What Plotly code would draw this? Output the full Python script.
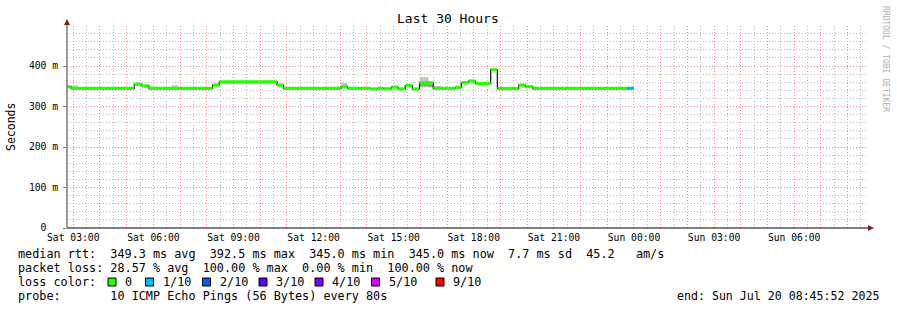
import plotly.graph_objects as go
import pandas as pd

# ---------------- data ----------------
seg_start = [
    "2025-07-19 02:46", "2025-07-19 02:55", "2025-07-19 03:11", "2025-07-19 05:17",
    "2025-07-19 05:34", "2025-07-19 05:50", "2025-07-19 06:40", "2025-07-19 06:56",
    "2025-07-19 08:13", "2025-07-19 08:28", "2025-07-19 10:38", "2025-07-19 10:52",
    "2025-07-19 13:02", "2025-07-19 13:16", "2025-07-19 14:07", "2025-07-19 14:23",
    "2025-07-19 14:37", "2025-07-19 14:55", "2025-07-19 15:10", "2025-07-19 15:26",
    "2025-07-19 15:42", "2025-07-19 15:58", "2025-07-19 16:18", "2025-07-19 16:29",
    "2025-07-19 16:47", "2025-07-19 17:19", "2025-07-19 17:32", "2025-07-19 17:48",
    "2025-07-19 18:04", "2025-07-19 18:38", "2025-07-19 18:53", "2025-07-19 19:41",
    "2025-07-19 19:56", "2025-07-19 20:12", "2025-07-19 23:44",
]
data_end = "2025-07-20 00:00"

median_ms = [
    349, 345, 345, 355,
    351, 345, 345, 345,
    353, 361, 353, 345,
    349, 345, 343.5, 345,
    344, 348, 343.5, 352,
    343.5, 358, 358, 345,
    345, 347.6, 359, 363,
    357, 391, 344.5, 353,
    349, 345, 345,
]
loss_level = [0] * 34 + [1]

smoke_lo = [None, 345, None, None, None, None, 345, None, None, None, None, None,
            346, None, None, None, None, None, None, None, None, 347, 347, 345,
            None, None, None, None, None, None, None, None, 349, None, None]
smoke_hi = [None, 352, None, None, None, None, 352, None, None, None, None, None,
            358, None, None, None, None, None, None, None, None, 373, 364, 351,
            None, None, None, None, None, None, None, None, 353, None, None]
inner_lo = [None] * 21 + [350, 349] + [None] * 12
inner_hi = [None] * 21 + [362, 356] + [None] * 12

range_start = "2025-07-19 02:45:52"
range_end = "2025-07-20 08:45:52"
tick_labels = ["Sat 03:00", "Sat 06:00", "Sat 09:00", "Sat 12:00", "Sat 15:00",
               "Sat 18:00", "Sat 21:00", "Sun 00:00", "Sun 03:00", "Sun 06:00"]
y_tick_vals = [0, 100, 200, 300, 400]
y_tick_text = ["0  ", "100 m", "200 m", "300 m", "400 m"]

loss_names = ["0", "1/10", "2/10", "3/10", "4/10", "5/10", "9/10"]
loss_colors = ["#26ff00", "#00b8ff", "#0059ff", "#5e00ff", "#7e00ff", "#dd00ff", "#ff0000"]
level_color = {0: loss_colors[0], 1: loss_colors[1]}

legend_lines = [
    "median rtt:  349.3 ms avg  392.5 ms max  345.0 ms min  345.0 ms now  7.7 ms sd  45.2   am/s",
    "packet loss: 28.57 % avg  100.00 % max  0.00 % min  100.00 % now",
    "loss color:",
    "probe:       10 ICMP Echo Pings (56 Bytes) every 80s",
]
end_text = "end: Sun Jul 20 08:45:52 2025"

# ---------------- layout constants ----------------
W, H = 897, 310
L, R, T, B = 67, 868, 26, 228
MONO = "DejaVu Sans Mono"


def px(xp):
    return (xp - L) / (R - L)


def py(yp):
    return (B - yp) / (B - T)


def nb(s):
    return s.replace(" ", "\u00a0")


seg_end = seg_start[1:] + [data_end]

fig = go.Figure()


def band_trace(lo, hi, color):
    xs, ys = [], []
    for s, e, a, b in zip(seg_start, seg_end, lo, hi):
        if a is None:
            continue
        xs += [s, e, e, s, s, None]
        ys += [a, a, b, b, a, None]
    return go.Scatter(x=xs, y=ys, mode="lines", fill="toself", fillcolor=color,
                      line=dict(width=0, color=color), hoverinfo="skip", showlegend=False)


fig.add_trace(band_trace(smoke_lo, smoke_hi, "#c6c6c6"))
fig.add_trace(band_trace(inner_lo, inner_hi, "#959595"))

# black step line (median)
fig.add_trace(go.Scatter(x=seg_start + [data_end], y=median_ms + [median_ms[-1]],
                         mode="lines", line=dict(color="#101010", width=1.2, shape="hv"),
                         hoverinfo="skip", showlegend=False))

# coloured horizontal median pieces by loss level
for lvl, col in level_color.items():
    xs, ys = [], []
    for s, e, v, l in zip(seg_start, seg_end, median_ms, loss_level):
        if l != lvl:
            continue
        xs += [s, e, None]
        ys += [v, v, None]
    fig.add_trace(go.Scatter(x=xs, y=ys, mode="lines", line=dict(color=col, width=3.2),
                             hoverinfo="skip", showlegend=False))

# x ticks: hourly grid (red), labels every 3h
hours = pd.date_range("2025-07-19 03:00", "2025-07-20 08:00", freq="h")
lab_iter = iter(tick_labels)
x_tick_text = [next(lab_iter) if h.hour % 3 == 0 else "" for h in hours]

MAJ = "#ff8a8a"
MIN = "#b9b9b9"
DASH = "1px,2px"

fig.update_xaxes(
    type="date", range=[range_start, range_end],
    tickvals=list(hours), ticktext=x_tick_text,
    showgrid=True, gridcolor=MAJ, griddash=DASH, gridwidth=1,
    minor=dict(dtick=30 * 60 * 1000, tick0="2025-07-19 00:00", showgrid=True,
               gridcolor=MIN, griddash=DASH, gridwidth=1, ticks=""),
    ticks="", showline=False, zeroline=False, ticklabelstandoff=2,
    tickfont=dict(family=MONO, size=9.7, color="#000"),
    fixedrange=True,
)
fig.update_yaxes(
    range=[0, 499], tickvals=y_tick_vals, ticktext=[nb(t) for t in y_tick_text],
    showgrid=True, gridcolor=MAJ, griddash=DASH, gridwidth=1,
    minor=dict(dtick=20, showgrid=True, gridcolor=MIN, griddash=DASH, gridwidth=1),
    ticks="outside", ticklen=3, tickcolor="#777", ticklabelstandoff=3,
    showline=False, zeroline=False,
    tickfont=dict(family=MONO, size=9.7, color="#000"),
    fixedrange=True,
)

shapes = []
# axes lines
shapes.append(dict(type="line", xref="paper", yref="paper", x0=0, x1=px(870), y0=0, y1=0,
                   line=dict(color="#000", width=1)))
shapes.append(dict(type="line", xref="paper", yref="paper", x0=0, x1=0, y0=0, y1=py(22),
                   line=dict(color="#666", width=1.3)))
# arrows
shapes.append(dict(type="path", xref="paper", yref="paper",
                   path=f"M {px(868)} {py(225)} L {px(874)} {py(228)} L {px(868)} {py(231)} Z",
                   fillcolor="#8b1a1a", line=dict(width=0)))
shapes.append(dict(type="path", xref="paper", yref="paper",
                   path=f"M {px(64)} {py(25)} L {px(67)} {py(19)} L {px(70)} {py(25)} Z",
                   fillcolor="#8b1a1a", line=dict(width=0)))

annotations = []
annotations.append(dict(text=nb("Last 30 Hours"), xref="paper", yref="paper", x=px(448), y=py(19),
                        xanchor="center", yanchor="middle", showarrow=False,
                        font=dict(family=MONO, size=13, color="#000")))
annotations.append(dict(text="Seconds", xref="paper", yref="paper", x=px(11), y=py(127),
                        xanchor="center", yanchor="middle", showarrow=False, textangle=-90,
                        font=dict(family=MONO, size=11.5, color="#000")))
annotations.append(dict(text=nb("RRDTOOL / TOBI OETIKER"), xref="paper", yref="paper",
                        x=px(886), y=py(59), xanchor="center", yanchor="middle",
                        showarrow=False, textangle=90,
                        font=dict(family=MONO, size=8, color="#b0b0b0")))

line_y = [254, 268, 282, 296]
for txt, yy in zip(legend_lines, line_y):
    annotations.append(dict(text=nb(txt), xref="paper", yref="paper", x=px(16), y=py(yy),
                            xanchor="left", yanchor="middle", showarrow=False,
                            font=dict(family=MONO, size=11.8, color="#000")))
annotations.append(dict(text=nb(end_text), xref="paper", yref="paper", x=px(881), y=py(296),
                        xanchor="right", yanchor="middle", showarrow=False,
                        font=dict(family=MONO, size=11.6, color="#000")))

box_px = [108, 145.5, 202.5, 259, 315, 371.5, 436]
for name, col, bx in zip(loss_names, loss_colors, box_px):
    shapes.append(dict(type="rect", xref="paper", yref="paper",
                       x0=px(bx), x1=px(bx + 8), y0=py(286), y1=py(278),
                       fillcolor=col, line=dict(color="#000", width=1)))
    annotations.append(dict(text=nb(name), xref="paper", yref="paper", x=px(bx + 15), y=py(282),
                            xanchor="left", yanchor="middle", showarrow=False,
                            font=dict(family=MONO, size=11.8, color="#000")))

fig.update_layout(
    width=W, height=H,
    margin=dict(l=L, r=W - R, t=T, b=H - B, pad=0),
    paper_bgcolor="#ffffff", plot_bgcolor="#ffffff",
    shapes=shapes, annotations=annotations, showlegend=False,
    font=dict(family=MONO),
)

fig.write_html("out.html", config={"displayModeBar": False})
